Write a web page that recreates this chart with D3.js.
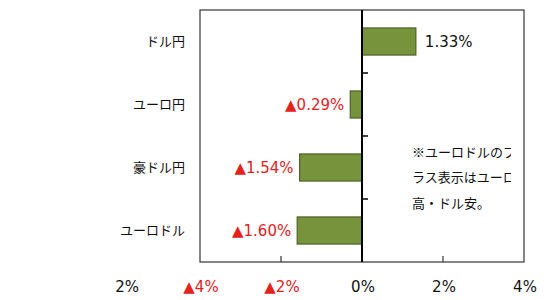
<!DOCTYPE html>
<html>
<head>
<meta charset="utf-8">
<script src="https://cdn.jsdelivr.net/npm/d3@7"></script>
<style>
  body { margin: 0; background: #fff; }
  text { font-family: "DejaVu Sans", "Noto Sans CJK JP", sans-serif; }
  .jp { font-family: "Noto Sans CJK JP", sans-serif; }
</style>
</head>
<body>
<div id="chart"></div>
<script>
// data
var categories = ["ドル円", "ユーロ円", "豪ドル円", "ユーロドル"];
var values = [1.33, -0.29, -1.54, -1.60];
var valueLabels = ["1.33%", "▲0.29%", "▲1.54%", "▲1.60%"];
var tickValues = [-4, -2, 0, 2, 4];
var tickLabels = ["▲4%", "▲2%", "0%", "2%", "4%"];
var strayLabel = { value: -5.8, text: "2%" };
var noteLines = ["※ユーロドルのプ", "ラス表示はユーロ", "高・ドル安。"];

var width = 550, height = 300;
var margin = { top: 10, right: 26, bottom: 38, left: 200 };

var svg = d3.select("#chart").append("svg")
  .attr("width", width)
  .attr("height", height);

var x = d3.scaleLinear()
  .domain([-4, 4])
  .range([margin.left, width - margin.right]);

var y = d3.scaleBand()
  .domain(categories)
  .range([margin.top, height - margin.bottom])
  .paddingInner(0.57)
  .paddingOuter(0.285);

var yb = d3.scaleBand()
  .domain(categories)
  .range([margin.top, height - margin.bottom]);

var red = "#e3211d";

// clip for the note
svg.append("clipPath").attr("id", "plotClip")
  .append("rect")
  .attr("x", margin.left).attr("y", margin.top)
  .attr("width", 311).attr("height", height - margin.top - margin.bottom);

// bars
svg.selectAll(".bar")
  .data(values)
  .enter()
  .append("rect")
  .attr("x", function(d) { return x(Math.min(0, d)); })
  .attr("y", function(d, i) { return y(categories[i]); })
  .attr("width", function(d) { return Math.abs(x(d) - x(0)); })
  .attr("height", y.bandwidth())
  .attr("fill", "#77933c")
  .attr("stroke", "#4f6228")
  .attr("stroke-width", 1.2);

// plot frame
svg.append("rect")
  .attr("x", x(-4)).attr("y", margin.top)
  .attr("width", x(4) - x(-4))
  .attr("height", height - margin.top - margin.bottom)
  .attr("fill", "none")
  .attr("stroke", "#333")
  .attr("stroke-width", 1.2);

// bottom ticks (pointing up)
svg.selectAll(".xtick")
  .data(tickValues.slice(1, -1))
  .enter()
  .append("line")
  .attr("x1", function(d) { return x(d); })
  .attr("x2", function(d) { return x(d); })
  .attr("y1", height - margin.bottom)
  .attr("y2", height - margin.bottom - 6)
  .attr("stroke", "#333")
  .attr("stroke-width", 1.2);

// zero axis
svg.append("line")
  .attr("x1", x(0)).attr("x2", x(0))
  .attr("y1", margin.top).attr("y2", height - margin.bottom)
  .attr("stroke", "#000")
  .attr("stroke-width", 2);

// category boundary ticks on the zero axis
svg.selectAll(".ytick")
  .data(categories.slice(1))
  .enter()
  .append("line")
  .attr("x1", x(0))
  .attr("x2", x(0) + 6)
  .attr("y1", function(d) { return yb(d); })
  .attr("y2", function(d) { return yb(d); })
  .attr("stroke", "#000")
  .attr("stroke-width", 1.5);

// category labels
svg.selectAll(".cat")
  .data(categories)
  .enter()
  .append("text")
  .attr("class", "jp")
  .attr("x", 185)
  .attr("y", function(d) { return y(d) + y.bandwidth() / 2; })
  .attr("dy", "0.35em")
  .attr("text-anchor", "end")
  .attr("font-size", "13px")
  .attr("fill", "#111")
  .text(function(d) { return d; });

// value labels
svg.selectAll(".val")
  .data(values)
  .enter()
  .append("text")
  .attr("x", function(d) { return d >= 0 ? x(d) + 9 : x(d) - 6; })
  .attr("y", function(d, i) { return y(categories[i]) + y.bandwidth() / 2; })
  .attr("dy", "0.36em")
  .attr("text-anchor", function(d) { return d >= 0 ? "start" : "end"; })
  .attr("font-size", "15px")
  .attr("fill", function(d) { return d >= 0 ? "#111" : red; })
  .text(function(d, i) { return valueLabels[i]; });

// x tick labels
svg.selectAll(".xlab")
  .data(tickValues)
  .enter()
  .append("text")
  .attr("x", function(d) { return x(d) + 1; })
  .attr("y", 287)
  .attr("dy", "0.35em")
  .attr("text-anchor", "middle")
  .attr("font-size", "15px")
  .attr("fill", function(d) { return d < 0 ? red : "#111"; })
  .text(function(d, i) { return tickLabels[i]; });

svg.append("text")
  .attr("x", x(strayLabel.value))
  .attr("y", 287)
  .attr("dy", "0.35em")
  .attr("text-anchor", "middle")
  .attr("font-size", "15px")
  .attr("fill", "#111")
  .text(strayLabel.text);

// note (clipped at right)
svg.append("g")
  .attr("clip-path", "url(#plotClip)")
  .selectAll("text")
  .data(noteLines)
  .enter()
  .append("text")
  .attr("class", "jp")
  .attr("x", 412)
  .attr("y", function(d, i) { return 152 + i * 25.5; })
  .attr("dy", "0.35em")
  .attr("font-size", "13px")
  .attr("fill", "#111")
  .text(function(d) { return d; });
</script>
</body>
</html>
